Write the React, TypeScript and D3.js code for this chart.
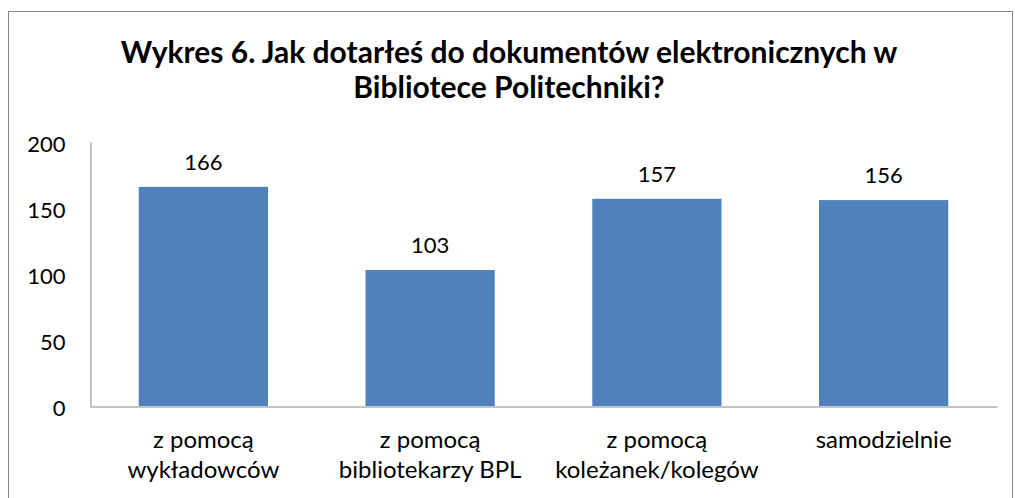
import React, { useRef, useEffect } from "react";
import * as d3 from "d3";

const categories: string[][] = [
  ["z pomocą", "wykładowców"],
  ["z pomocą", "bibliotekarzy BPL"],
  ["z pomocą", "koleżanek/kolegów"],
  ["samodzielnie"],
];
const values: number[] = [166, 103, 157, 156];
const yTicks: number[] = [0, 50, 100, 150, 200];
const titleLines: string[] = [
  "Wykres 6. Jak dotarłeś do dokumentów elektronicznych w",
  "Bibliotece Politechniki?",
];

const W = 1015;
const H = 498;
const FONT = "Lato, 'Open Sans', sans-serif";

const App = () => {
  const svgRef = useRef<SVGSVGElement>(null);

  useEffect(() => {
    const svg = d3.select(svgRef.current);
    svg.selectAll("*").remove();

    const margin = { top: 142, right: 18, bottom: 92, left: 90 };

    // frame
    svg.append("rect")
      .attr("x", 8.5).attr("y", 11.5)
      .attr("width", W - 11).attr("height", H)
      .attr("fill", "#fff")
      .attr("stroke", "#868686");

    // title
    svg.append("g").selectAll("text")
      .data(titleLines)
      .enter()
      .append("text")
      .attr("x", 509)
      .attr("y", (_d, i) => 63 + i * 35)
      .attr("text-anchor", "middle")
      .style("font-family", FONT)
      .style("font-size", "30px")
      .style("font-weight", "bold")
      .attr("fill", "#000")
      .text(d => d);

    const keys = categories.map((_c, i) => String(i));

    const x = d3.scaleBand()
      .domain(keys)
      .range([margin.left, W - margin.right])
      .paddingInner(0.43)
      .paddingOuter(0.215);

    const y = d3.scaleLinear()
      .domain([0, 200])
      .range([H - margin.bottom, margin.top]);

    // bars
    svg.selectAll(".bar")
      .data(values)
      .enter()
      .append("rect")
      .attr("class", "bar")
      .attr("x", (_d, i) => x(keys[i]) as number)
      .attr("y", d => y(d))
      .attr("width", x.bandwidth())
      .attr("height", d => y(0) - y(d))
      .attr("fill", "#4F81BD");

    // value labels
    svg.selectAll(".val")
      .data(values)
      .enter()
      .append("text")
      .attr("class", "val")
      .attr("x", (_d, i) => (x(keys[i]) as number) + x.bandwidth() / 2)
      .attr("y", d => y(d) - 17)
      .attr("text-anchor", "middle")
      .style("font-family", FONT)
      .style("font-size", "22px")
      .attr("fill", "#000")
      .text(d => d);

    // y axis
    const yAxis = svg.append("g")
      .attr("transform", `translate(${margin.left + 0.5},0)`)
      .call(d3.axisLeft(y).tickValues(yTicks).tickSize(0).tickPadding(25));
    yAxis.select(".domain").attr("stroke", "#868686");
    yAxis.selectAll("text")
      .attr("dy", "0.45em")
      .style("font-family", FONT)
      .style("font-size", "22px")
      .attr("fill", "#000");

    // x axis
    const xAxis = svg.append("g")
      .attr("transform", `translate(0,${y(0) + 0.5})`)
      .call(d3.axisBottom(x).tickSize(0).tickFormat(() => ""));
    xAxis.select(".domain").attr("stroke", "#868686");

    const xl = svg.append("g");
    categories.forEach((lines, i) => {
      const cx = (x(keys[i]) as number) + x.bandwidth() / 2;
      lines.forEach((ln, j) => {
        xl.append("text")
          .attr("x", cx)
          .attr("y", y(0) + 42 + j * 30)
          .attr("text-anchor", "middle")
          .style("font-family", FONT)
          .style("font-size", "24px")
          .attr("fill", "#000")
          .text(ln);
      });
    });
  }, []);

  return (
    <div style={{ position: "absolute", left: 0, top: 0 }}>
      <svg ref={svgRef} width={W} height={H} style={{ display: "block" }}></svg>
    </div>
  );
};

export default App;
